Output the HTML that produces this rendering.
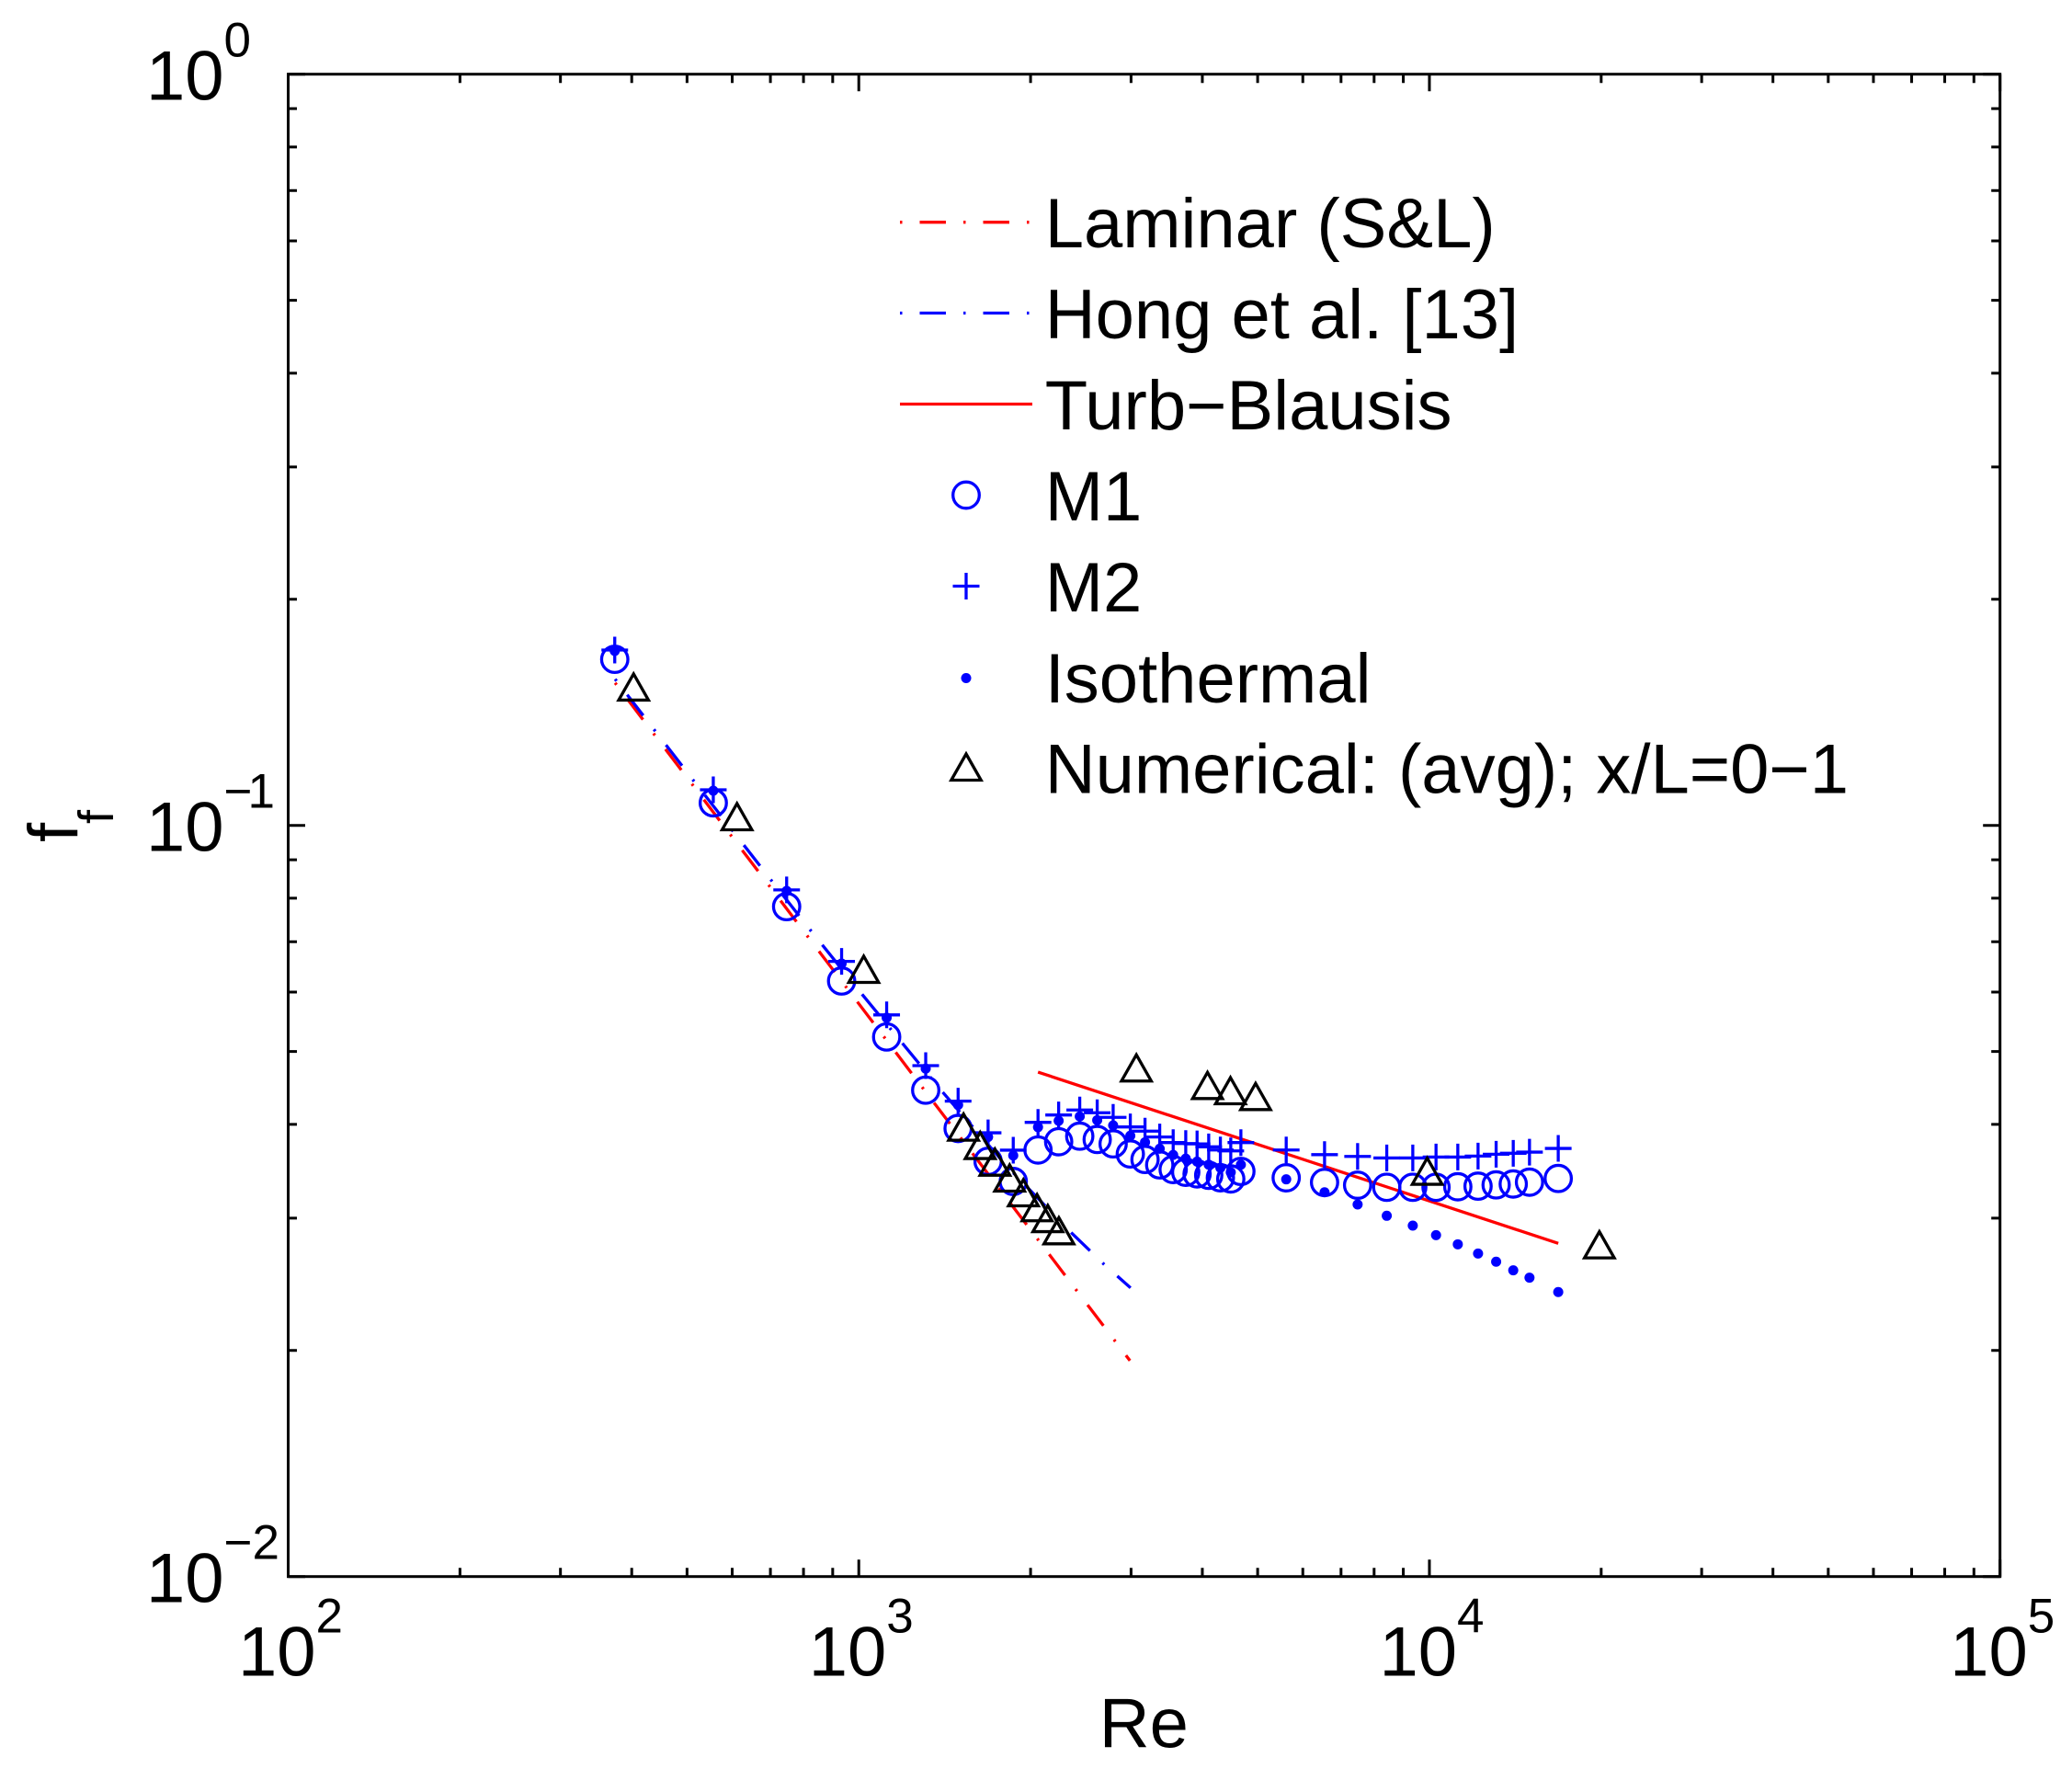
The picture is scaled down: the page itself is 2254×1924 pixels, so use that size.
<!DOCTYPE html>
<html lang="en">
<head>
<meta charset="utf-8">
<title>Friction factor vs Reynolds number</title>
<style>
html,body{margin:0;padding:0;background:#fff;}
svg{display:block;}
text{font-family:"Liberation Sans",Arial,sans-serif;fill:#000;}
.lab{font-size:76px;}
.sup{font-size:53px;}
</style>
</head>
<body>
<svg id="chart" xmlns="http://www.w3.org/2000/svg" width="2254" height="1924" viewBox="0 0 2254 1924">
  <rect x="0" y="0" width="2254" height="1924" fill="#fff"/>
  <g id="ticks"></g>
  <g id="tick-labels"></g>
  <g id="series"></g>
  <rect x="313.5" y="80.7" width="1862.2" height="1634" fill="none" stroke="#000" stroke-width="3"/>
  <text class="lab" x="1195.7" y="1900.3">Re</text>
  <g>
    <text class="lab" transform="translate(84,916) rotate(-90)">f</text>
    <text style="font-size:54px" transform="translate(123,896) rotate(-90)">f</text>
  </g>
  <g id="legend">
    <g>
      <line x1="979" y1="241.7" x2="1123" y2="241.7" stroke="#f00" stroke-width="3.3" stroke-dasharray="2.5 19 28.5 19"/>
      <text class="lab" x="1136.7" y="269">Laminar (S&amp;L)</text>
    </g>
    <g>
      <line x1="979" y1="340.5" x2="1123" y2="340.5" stroke="#00f" stroke-width="3.3" stroke-dasharray="2.5 19 28.5 19"/>
      <text class="lab" x="1136.7" y="368">Hong et al. [13]</text>
    </g>
    <g>
      <line x1="979" y1="439.5" x2="1123" y2="439.5" stroke="#f00" stroke-width="3.3"/>
      <text class="lab" x="1136.7" y="467">Turb−Blausis</text>
    </g>
    <g>
      <circle cx="1051" cy="538.5" r="14.3" fill="none" stroke="#00f" stroke-width="3.3"/>
      <text class="lab" x="1136.7" y="566">M1</text>
    </g>
    <g>
      <path d="M1036.5 637.5H1065.5M1051 623V652" fill="none" stroke="#00f" stroke-width="3.3"/>
      <text class="lab" x="1136.7" y="665">M2</text>
    </g>
    <g>
      <circle cx="1051" cy="737.5" r="5.5" fill="#00f"/>
      <text class="lab" x="1136.7" y="764">Isothermal</text>
    </g>
    <g>
      <path d="M1051 820L1067.2 848.5H1034.8Z" fill="none" stroke="#000" stroke-width="3.3"/>
      <text class="lab" x="1136.7" y="862.7">Numerical: (avg); x/L=0−1</text>
    </g>
  </g>
</svg>
<script>
// Axis tick exponents
var xTickExponents = [2, 3, 4, 5];
var yTickExponents = [0, -1, -2];
var minorMultipliers = [2, 3, 4, 5, 6, 7, 8, 9];

// Correlation lines
var laminarRe = [374.1, 2987];
var laminarF = [0.15474, 0.01938];
var hongRe = [374.1, 511.6, 701.7, 822.9, 1013.4, 1196, 1405, 1815, 2359, 2692, 2994];
var hongF = [0.15657, 0.11508, 0.08459, 0.0725, 0.05958, 0.05113, 0.04408, 0.03522, 0.02867, 0.02603, 0.02423];
var turbRe = [2061, 16820];
var turbF = [0.04694, 0.02777];

// Measured Reynolds numbers (shared by M1, M2 and Isothermal)
var measuredRe = [373.5, 555.9, 747.4, 933, 1119, 1310, 1493, 1685, 1865, 2061, 2240, 2439, 2617, 2791, 2991, 3174, 3368, 3556, 3741, 3916, 4104, 4302, 4486, 4673, 5611, 6550, 7485, 8419, 9351, 10271, 11214, 12169, 13090, 14026, 14976, 16818];
var m1F = [0.16636, 0.10715, 0.07796, 0.06206, 0.05228, 0.04441, 0.03949, 0.03571, 0.03357, 0.03697, 0.03792, 0.03857, 0.03818, 0.03767, 0.03652, 0.03591, 0.03532, 0.03482, 0.03453, 0.03436, 0.03421, 0.03395, 0.03383, 0.03462, 0.03395, 0.03347, 0.03319, 0.03298, 0.03298, 0.03298, 0.03303, 0.03309, 0.03322, 0.03331, 0.0335, 0.03388];
var m2F = [0.17115, 0.11152, 0.08205, 0.06591, 0.05594, 0.04788, 0.04294, 0.03897, 0.03695, 0.04024, 0.04116, 0.04179, 0.04144, 0.04086, 0.03968, 0.03917, 0.03847, 0.03782, 0.03771, 0.03767, 0.03733, 0.03697, 0.03687, 0.03782, 0.03697, 0.03645, 0.03625, 0.03608, 0.03608, 0.03618, 0.03618, 0.03629, 0.03649, 0.0366, 0.03673, 0.03715];
var isoF = [0.17067, 0.11121, 0.0818, 0.06548, 0.05545, 0.04744, 0.04245, 0.03847, 0.03635, 0.03965, 0.04043, 0.04098, 0.04051, 0.03987, 0.03862, 0.03786, 0.03712, 0.03642, 0.03601, 0.03568, 0.03534, 0.03501, 0.03453, 0.03534, 0.03379, 0.03248, 0.03129, 0.03022, 0.02932, 0.02848, 0.02769, 0.02692, 0.02625, 0.02557, 0.025, 0.02392];

// Numerical results
var numericalRe = [403, 611.7, 1020, 1526, 1632, 1732, 1838, 1943, 2053, 2144, 2242, 3065, 4084, 4481, 4959, 9912, 19855];
var numericalF = [0.15307, 0.10286, 0.06443, 0.03972, 0.03755, 0.03568, 0.03398, 0.03248, 0.03103, 0.03001, 0.02891, 0.04762, 0.04513, 0.04441, 0.04363, 0.0347, 0.02769];

var SVG_NS = 'http://www.w3.org/2000/svg';
var plotLeft = 313.5, plotRight = 2175.7, plotTop = 80.7, plotBottom = 1714.7;
var xMinExp = 2, xMaxExp = 5, yMinExp = -2, yMaxExp = 0;
var markStroke = 3.3;

function xScale(v) {
  return plotLeft + (Math.log10(v) - xMinExp) / (xMaxExp - xMinExp) * (plotRight - plotLeft);
}
function yScale(v) {
  return plotBottom - (Math.log10(v) - yMinExp) / (yMaxExp - yMinExp) * (plotBottom - plotTop);
}
function make(tag, parent, attrs) {
  var el = document.createElementNS(SVG_NS, tag);
  for (var k in attrs) { el.setAttribute(k, attrs[k]); }
  parent.appendChild(el);
  return el;
}

var ticksG = document.getElementById('ticks');
var labelsG = document.getElementById('tick-labels');

function tickPath(d, name) {
  var el = make('path', ticksG, { d: d, stroke: '#000', 'stroke-width': 3, fill: 'none' });
  
  
}
function addXTick(v, len, name) {
  var x = xScale(v);
  tickPath('M' + x + ' ' + plotBottom + 'V' + (plotBottom - len) + 'M' + x + ' ' + plotTop + 'V' + (plotTop + len), name);
}
function addYTick(v, len, name) {
  var y = yScale(v);
  tickPath('M' + plotLeft + ' ' + y + 'H' + (plotLeft + len) + 'M' + plotRight + ' ' + y + 'H' + (plotRight - len), name);
}

xTickExponents.forEach(function (e, i) {
  var v = Math.pow(10, e);
  addXTick(v, 18.5, 'x-major-tick');
  if (i < xTickExponents.length - 1) {
    minorMultipliers.forEach(function (m) { addXTick(m * v, 9.5, 'x-minor-tick'); });
  }
});
yTickExponents.forEach(function (e) {
  var v = Math.pow(10, e);
  addYTick(v, 18.5, 'y-major-tick');
  if (e > yMinExp) {
    minorMultipliers.forEach(function (m) { addYTick(m * v / 10, 9.5, 'y-minor-tick'); });
  }
});

function addTickLabel(originX, baseline, e, name) {
  var t = make('text', labelsG, { x: originX, y: baseline, 'class': 'lab' });
  t.textContent = '10';
  
  
  var s = make('text', labelsG, { x: originX + 84.5, y: baseline - 47, 'class': 'sup' });
  
  
  if (e < 0) {
    var minus = make('tspan', s, {});
    minus.textContent = '\u2212';
    var digit = make('tspan', s, { dx: Math.abs(e) === 1 ? -5 : 0 });
    digit.textContent = String(Math.abs(e));
  } else {
    s.textContent = String(e);
  }
}
xTickExponents.forEach(function (e) {
  addTickLabel(xScale(Math.pow(10, e)) - 54.5, 1822.7, e, 'x-tick-label');
});
yTickExponents.forEach(function (e) {
  addTickLabel(159, yScale(Math.pow(10, e)) + 28, e, 'y-tick-label');
});

var seriesG = document.getElementById('series');

function addLine(res, fs, color, dash, name) {
  var pts = res.map(function (r, i) { return xScale(r) + ',' + yScale(fs[i]); }).join(' ');
  var el = make('polyline', seriesG, { points: pts, fill: 'none', stroke: color, 'stroke-width': markStroke });
  if (dash) { el.setAttribute('stroke-dasharray', dash); }
  
  
}
addLine(laminarRe, laminarF, '#f00', '2.5 19 28.5 19', 'laminar-line');
addLine(hongRe, hongF, '#00f', '2.5 19 28.5 19', 'hong-line');
addLine(turbRe, turbF, '#f00', null, 'turb-blausis-line');

measuredRe.forEach(function (r, i) {
  var c = make('circle', seriesG, { cx: xScale(r), cy: yScale(m1F[i]), r: 14.3, fill: 'none', stroke: '#00f', 'stroke-width': markStroke });
  
  
});
measuredRe.forEach(function (r, i) {
  var x = xScale(r), y = yScale(m2F[i]);
  var p = make('path', seriesG, { d: 'M' + (x - 14.5) + ' ' + y + 'H' + (x + 14.5) + 'M' + x + ' ' + (y - 14.5) + 'V' + (y + 14.5), fill: 'none', stroke: '#00f', 'stroke-width': markStroke });
  
  
});
measuredRe.forEach(function (r, i) {
  var d = make('circle', seriesG, { cx: xScale(r), cy: yScale(isoF[i]), r: 5.5, fill: '#00f' });
  
  
});
numericalRe.forEach(function (r, i) {
  var x = xScale(r), y = yScale(numericalF[i]);
  var t = make('path', seriesG, { d: 'M' + x + ' ' + (y - 13.7) + 'L' + (x + 16.2) + ' ' + (y + 14.8) + 'H' + (x - 16.2) + 'Z', fill: 'none', stroke: '#000', 'stroke-width': markStroke });
  
  
});
</script>
</body>
</html>
